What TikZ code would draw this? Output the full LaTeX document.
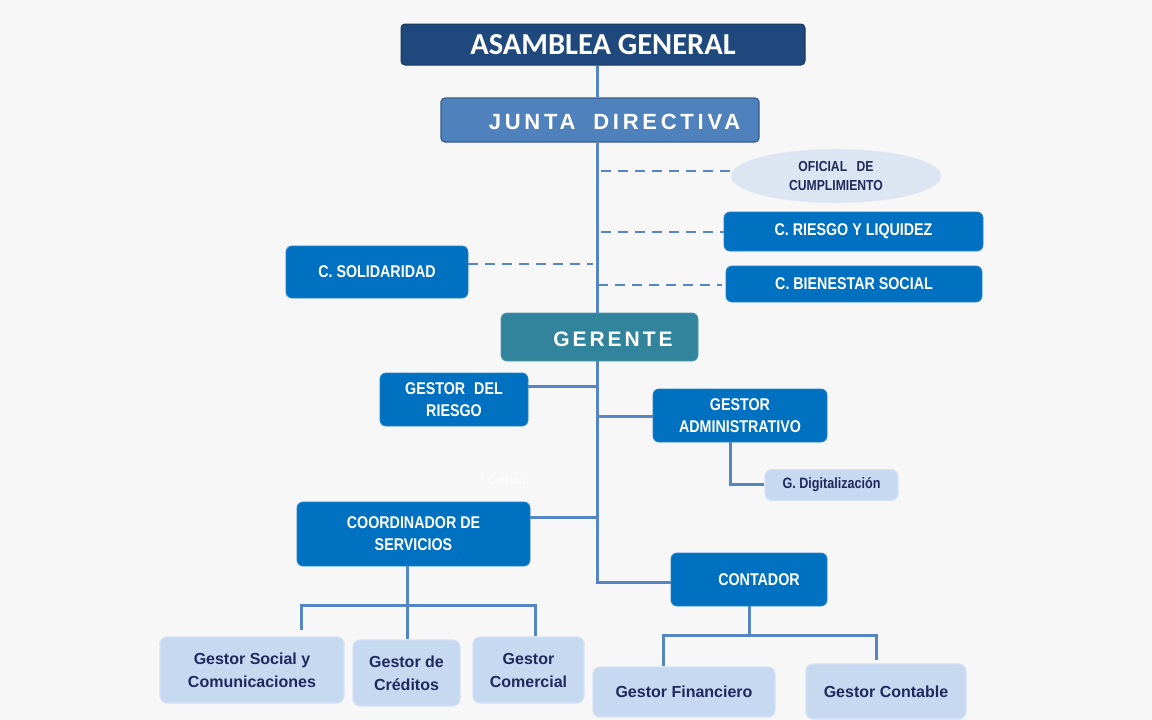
\documentclass[tikz,border=0pt]{standalone}
\usepackage{fontspec}
\setmainfont{Liberation Sans}
\newfontfamily\calib{Carlito}
\newfontfamily\narrowf[FakeStretch=0.84]{Liberation Sans}
\usetikzlibrary{shapes.geometric}
\definecolor{bgc}{HTML}{F7F7F7}
\definecolor{navy}{HTML}{1F497D}
\definecolor{navyb}{HTML}{17375E}
\definecolor{jdblue}{HTML}{4F81BD}
\definecolor{jdborder}{HTML}{385D8A}
\definecolor{mblue}{HTML}{0070C0}
\definecolor{teal}{HTML}{31849B}
\definecolor{lblue}{HTML}{C6D9F1}
\definecolor{lbord}{HTML}{D5E2F4}
\definecolor{ell}{HTML}{DCE6F2}
\definecolor{dtext}{HTML}{1F2A5C}
\definecolor{linec}{HTML}{5685C4}
\tikzset{
  x=1pt,y=-1pt,
  midbox/.style={fill=mblue,draw=mblue!85!white,line width=0.8pt,rounded corners=6pt,text=white,align=center,inner sep=0pt,font=\narrowf\bfseries\fontsize{17}{22}\selectfont},
  litebox/.style={fill=lblue,draw=lbord,line width=1.2pt,rounded corners=7pt,text=dtext,align=center,inner sep=0pt,font=\bfseries\fontsize{16}{23}\selectfont},
  conn/.style={draw=linec,line width=3pt},
  dline/.style={draw=linec,line width=2.6pt,dash pattern=on 10pt off 7pt}
}
\begin{document}
\begin{tikzpicture}
\fill[bgc] (0,0) rectangle (1152,720);
% top nodes
\node[fill=navy,draw=navyb,line width=1pt,rounded corners=4pt,minimum width=404pt,minimum height=41pt,inner sep=0pt,text=white,font=\calib\bfseries\fontsize{30.5}{31}\selectfont] (asam) at (603,44.5) {ASAMBLEA GENERAL};
\node[fill=jdblue,draw=jdborder,line width=1.2pt,rounded corners=4pt,minimum width=318pt,minimum height=44pt,inner sep=0pt] (junta) at (600,120) {};
\node[text=white,inner sep=0pt,font=\bfseries\addfontfeature{LetterSpace=17}\fontsize{22}{24}\selectfont] (juntat) at (614.5,122) {JUNTA\hspace{8pt} DIRECTIVA};
\node[ellipse,fill=ell,draw=ell!70!white,minimum width=210pt,minimum height=54pt,inner sep=0pt,text=dtext,align=center,font=\narrowf\bfseries\fontsize{14.5}{19}\selectfont] (ofi) at (836,176) {OFICIAL\hspace{6pt} DE\\CUMPLIMIENTO};
\node[midbox,minimum width=259pt,minimum height=39pt] (ries) at (853.5,231.5) {C. RIESGO Y LIQUIDEZ};
\node[midbox,minimum width=256pt,minimum height=36pt] (bien) at (854,284) {C. BIENESTAR SOCIAL};
\node[midbox,minimum width=182pt,minimum height=52pt] (sol) at (377,272) {C. SOLIDARIDAD};
\node[fill=teal,draw=teal!85!white,line width=0.8pt,rounded corners=6pt,minimum width=197pt,minimum height=48pt,inner sep=0pt] (ger) at (599.5,337) {};
\node[text=white,inner sep=0pt,font=\bfseries\addfontfeature{LetterSpace=14}\fontsize{21}{24}\selectfont] (gert) at (613,339) {GERENTE};
\node[midbox,minimum width=148pt,minimum height=53pt] (gdr) at (454,399.5) {GESTOR\hspace{5pt} DEL\\RIESGO};
\node[midbox,minimum width=174pt,minimum height=53pt] (gadm) at (740,415.5) {GESTOR\\ADMINISTRATIVO};
\node[litebox,minimum width=133pt,minimum height=31pt,font=\narrowf\bfseries\fontsize{15}{18}\selectfont] (gdig) at (831.5,485) {G. Digitalización};
\node[text=white,inner sep=0pt,font=\fontsize{11}{12}\selectfont] (cal) at (503,481) {* Calidad};
\node[midbox,minimum width=233pt,minimum height=64pt] (coord) at (413.5,534) {COORDINADOR DE\\SERVICIOS};
\node[midbox,minimum width=156pt,minimum height=53pt] (cont) at (749,579.5) {};
\node[text=white,inner sep=0pt,font=\narrowf\bfseries\fontsize{17}{22}\selectfont] (contt) at (759,580) {CONTADOR};
\node[litebox,minimum width=184pt,minimum height=66pt] (gsoc) at (252,670) {Gestor Social y\\Comunicaciones};
\node[litebox,minimum width=107pt,minimum height=66pt] (gcre) at (406.5,673) {Gestor de\\Créditos};
\node[litebox,minimum width=111pt,minimum height=66pt] (gcom) at (528.5,670) {Gestor\\Comercial};
\node[litebox,minimum width=182pt,minimum height=50pt] (gfin) at (684,692) {Gestor Financiero};
\node[litebox,minimum width=160pt,minimum height=55pt] (gcon) at (886,691.5) {Gestor Contable};
% trunk
\coordinate (tb) at (597,582);
\draw[conn] (asam.south -| tb) -- (junta.north -| tb);
\draw[conn] (junta.south -| tb) -- (ger.north -| tb);
\draw[conn] (ger.south -| tb) -- (tb) -- (tb -| cont.west);
% dashed committee links
\coordinate (d1) at (601,171);
\coordinate (d2) at (601,232);
\coordinate (d3) at (598,285);
\coordinate (d4) at (593,264);
\draw[dline] (d1) -- (725,171 -| ofi.west) ;
\draw[dline] (d2) -- (d2 -| ries.west);
\draw[dline] (d3) -- ([xshift=-4pt]d3 -| bien.west);
\draw[dline] (sol.east |- d4) -- (d4);
% gestor links
\coordinate (g1) at (597,386);
\coordinate (g2) at (597,416);
\coordinate (g3) at (597,517);
\draw[conn] (gdr.east |- g1) -- (g1);
\draw[conn] (g2) -- (gadm.west |- g2);
\draw[conn] (coord.east |- g3) -- (g3);
\coordinate (ga) at (730,484);
\draw[conn] (gadm.south -| ga) -- (ga) -- (gdig.west |- ga);
% coordinator subtree
\coordinate (cb) at (407,605);
\draw[conn] (coord.south -| cb) -- (cb);
\draw[conn] (301,630) -- (301,605) -- (535,605) -- (535,636);
\draw[conn] (cb) -- (gcre.north -| cb);
% contador subtree
\coordinate (kb) at (749,635);
\draw[conn] (cont.south -| kb) -- (kb);
\draw[conn] (663,666) -- (663,635) -- (876,635) -- (876,660);
\end{tikzpicture}
\end{document}
